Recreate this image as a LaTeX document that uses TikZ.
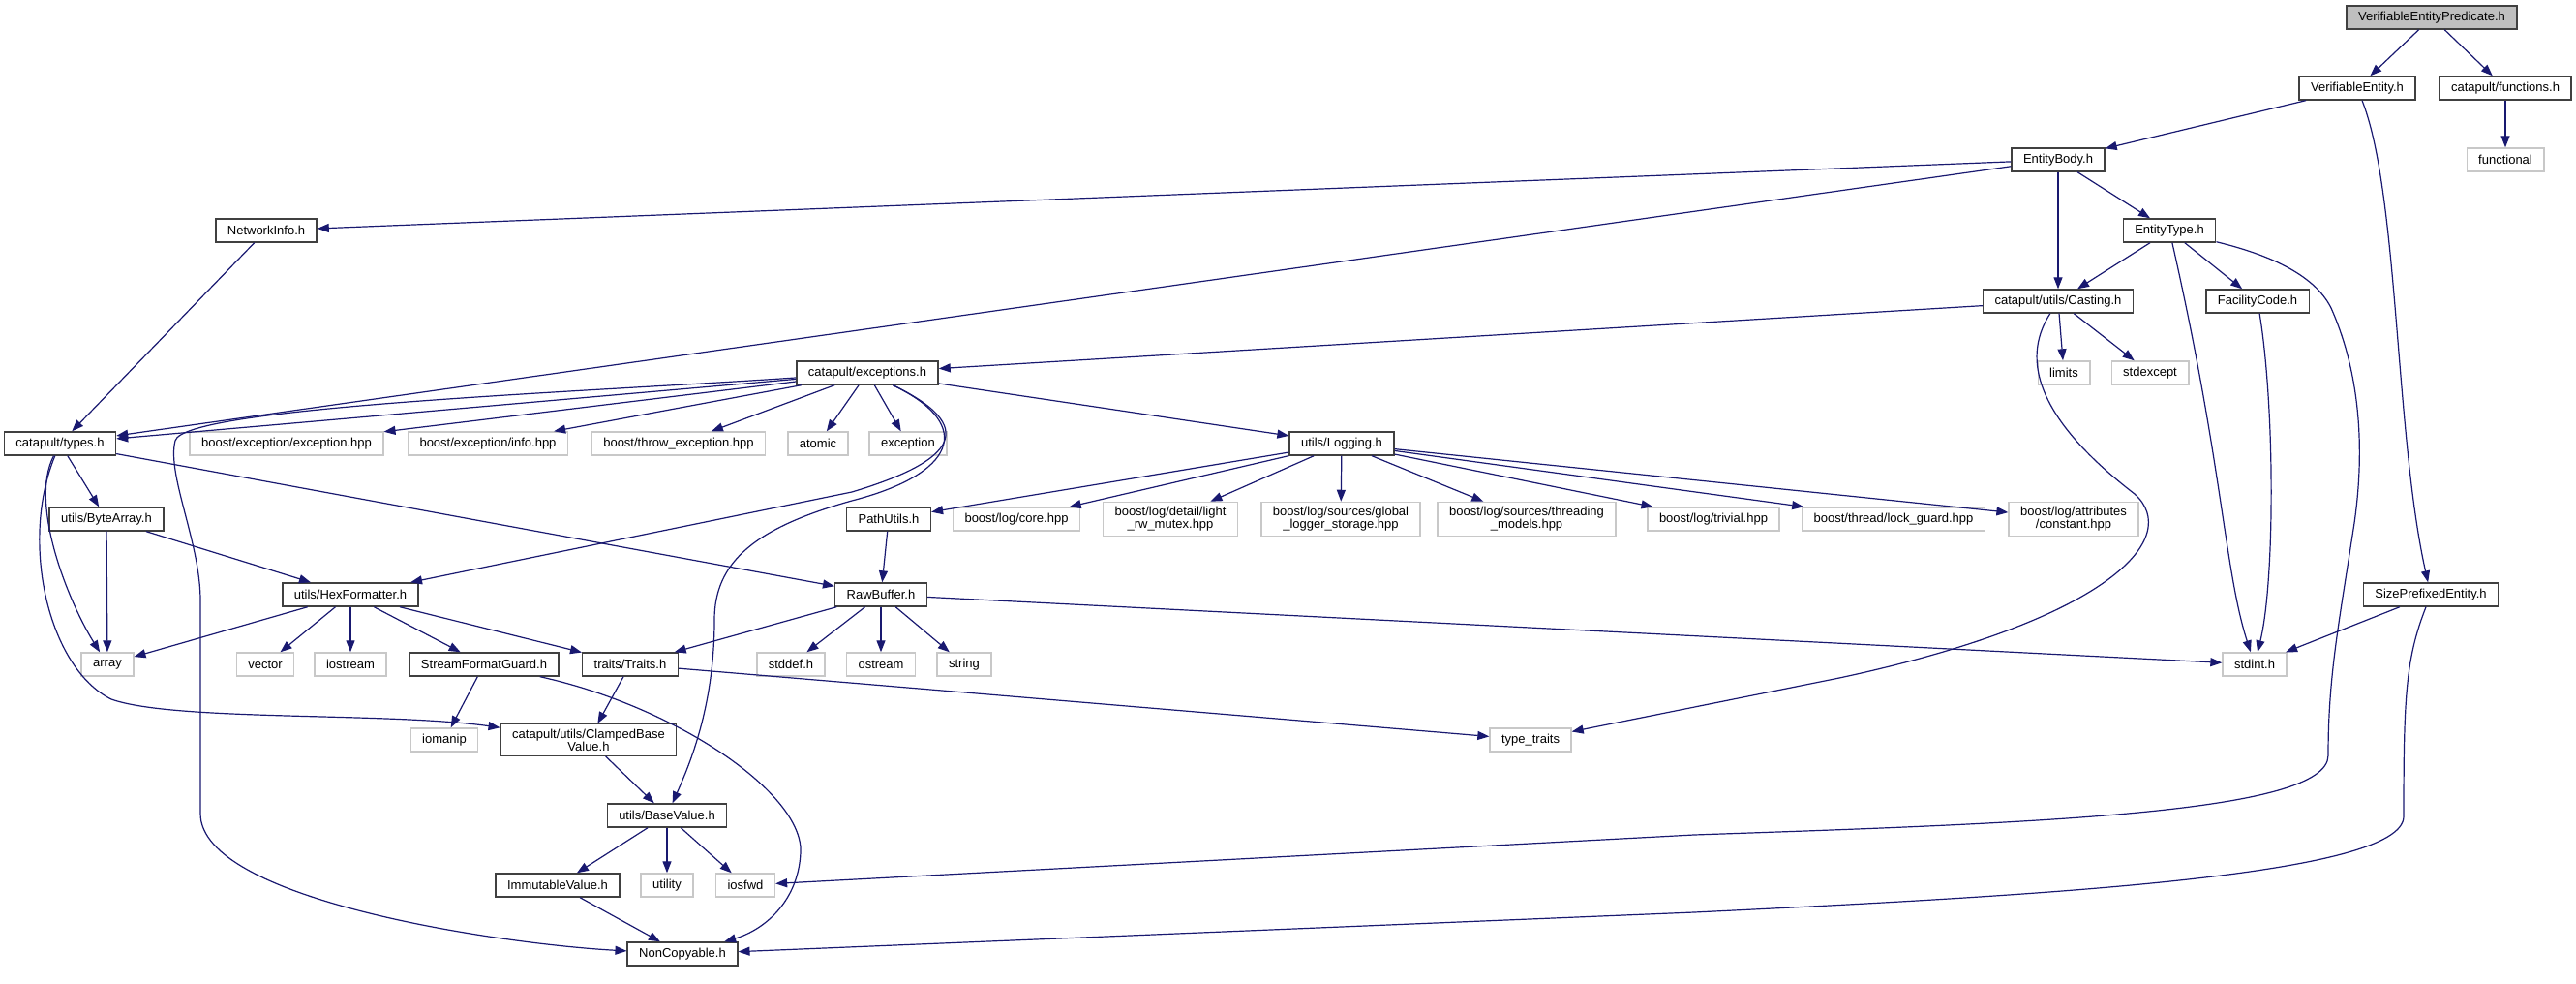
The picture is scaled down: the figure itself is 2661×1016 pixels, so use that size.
\documentclass[tikz,border=0pt]{standalone}
\usepackage{fontspec}
\setmainfont{Liberation Sans}
\usetikzlibrary{arrows.meta}
\definecolor{edgeblue}{HTML}{191970}
\definecolor{boxgray}{HTML}{404040}
\definecolor{sysgray}{HTML}{C8C8C8}
\definecolor{rootfill}{HTML}{BFBFBF}

\tikzset{
  hdr/.style={rectangle, draw=boxgray, line width=1.4pt, fill=white,
    minimum height=24pt, inner xsep=12pt, inner ysep=5pt, align=center,
    font=\fontsize{13}{13}\selectfont},
  sysh/.style={hdr, draw=sysgray},
  rooth/.style={hdr, fill=rootfill},
  dep/.style={draw=edgeblue, line width=1.2pt,
    -{Triangle[length=12pt,width=9pt]}}
}

\begin{document}
\begin{tikzpicture}[x=1pt, y=-1pt]
\useasboundingbox (0,0) rectangle (2661,1016);

% top of the graph
\node[rooth] (vep) at (2512,18) {VerifiableEntityPredicate.h};
\node[hdr] (ve) at (2435,91) {VerifiableEntity.h};
\node[hdr] (func) at (2588,91) {catapult/functions.h};
\node[sysh] (functional) at (2588,165) {functional};
\node[hdr] (body) at (2126,165) {EntityBody.h};
\node[hdr] (etype) at (2241,238) {EntityType.h};
\node[hdr] (netinfo) at (275,238) {NetworkInfo.h};
\node[hdr] (casting) at (2126,311) {catapult/utils/Casting.h};
\node[hdr] (facility) at (2332,311) {FacilityCode.h};
\node[hdr] (exc) at (896,385) {catapult/exceptions.h};
\node[sysh] (limits) at (2132,385) {limits};
\node[sysh] (stdexcept) at (2221,385) {stdexcept};

% row of types.h
\node[hdr] (types) at (62,458) {catapult/types.h};
\node[sysh] (bexc) at (296,458) {boost/exception/exception.hpp};
\node[sysh] (binfo) at (504,458) {boost/exception/info.hpp};
\node[sysh] (bthrow) at (701,458) {boost/throw\_exception.hpp};
\node[sysh] (atomic) at (845,458) {atomic};
\node[sysh] (exception) at (938,458) {exception};
\node[hdr] (logging) at (1386,458) {utils/Logging.h};

% logging includes
\node[hdr] (bytearr) at (110,536) {utils/ByteArray.h};
\node[hdr] (pathutils) at (918,536) {PathUtils.h};
\node[sysh] (bcore) at (1050,536) {boost/log/core.hpp};
\node[sysh] (bmutex) at (1209,536) {boost/log/detail/light\\\_rw\_mutex.hpp};
\node[sysh] (bglobal) at (1385,536) {boost/log/sources/global\\\_logger\_storage.hpp};
\node[sysh] (bthreading) at (1577,536) {boost/log/sources/threading\\\_models.hpp};
\node[sysh] (btrivial) at (1770,536) {boost/log/trivial.hpp};
\node[sysh] (block) at (1956,536) {boost/thread/lock\_guard.hpp};
\node[sysh] (bconst) at (2142,536) {boost/log/attributes\\/constant.hpp};

\node[hdr] (hexfmt) at (362,614) {utils/HexFormatter.h};
\node[hdr] (rawbuf) at (910,614) {RawBuffer.h};
\node[hdr] (spe) at (2511,614) {SizePrefixedEntity.h};

\node[sysh] (array) at (111,686) {array};
\node[sysh] (vector) at (274,686) {vector};
\node[sysh] (iostream) at (362,686) {iostream};
\node[hdr] (sfg) at (500,686) {StreamFormatGuard.h};
\node[hdr] (traits) at (651,686) {traits/Traits.h};
\node[sysh] (stddef) at (817,686) {stddef.h};
\node[sysh] (ostream) at (910,686) {ostream};
\node[sysh] (string) at (996,686) {string};
\node[sysh] (stdint) at (2329,686) {stdint.h};

% bottom rows
\node[sysh] (iomanip) at (459,764) {iomanip};
\node[hdr] (clamped) at (608,764) {catapult/utils/ClampedBase\\Value.h};
\node[sysh] (typetraits) at (1581,764) {type\_traits};
\node[hdr] (basevalue) at (689,842) {utils/BaseValue.h};
\node[hdr] (immut) at (576,914) {ImmutableValue.h};
\node[sysh] (utility) at (689,914) {utility};
\node[sysh] (iosfwd) at (770,914) {iosfwd};
\node[hdr] (noncopy) at (705,985) {NonCopyable.h};

% straight edges
\foreach \a/\b in {vep/ve, vep/func, func/functional, ve/body,
    body/netinfo, body/types, body/casting, body/etype,
    etype/casting, etype/facility, netinfo/types,
    casting/exc, casting/limits, casting/stdexcept,
    exc/types, exc/bexc, exc/binfo, exc/bthrow, exc/atomic,
    exc/exception, exc/logging,
    logging/pathutils, logging/bcore, logging/bmutex, logging/bglobal,
    logging/bthreading, logging/btrivial, logging/block, logging/bconst,
    types/bytearr, types/rawbuf, bytearr/array, bytearr/hexfmt,
    pathutils/rawbuf, hexfmt/array, hexfmt/vector, hexfmt/iostream,
    hexfmt/sfg, hexfmt/traits, rawbuf/traits, rawbuf/stddef,
    rawbuf/ostream, rawbuf/string, rawbuf/stdint, spe/stdint,
    sfg/iomanip, traits/clamped, traits/typetraits, clamped/basevalue,
    basevalue/immut, basevalue/utility, basevalue/iosfwd, immut/noncopy}
  \draw[dep] (\a) -- (\b);

% curved edges
\draw[dep] (ve) .. controls (2478,200) and (2474,450) .. (spe);
\draw[dep] (etype) .. controls (2296,480) and (2298,590) .. (stdint);
\draw[dep] (facility) .. controls (2350,420) and (2350,600) .. (stdint);
\draw[dep] (etype) .. controls (2340,262) and (2390,282) .. (2408,318)
  .. controls (2440,390) and (2442,470) .. (2432,540)
  .. controls (2415,650) and (2405,700) .. (2405,780)
  .. controls (2405,840) and (2100,850) .. (1750,862) -- (iosfwd);
\draw[dep] (spe) .. controls (2485,680) and (2483,720) .. (2483,843)
  .. controls (2483,905) and (2100,925) .. (1750,942) -- (noncopy);
\draw[dep] (casting) .. controls (2075,390) and (2140,460) .. (2205,510)
  .. controls (2255,555) and (2180,640) .. (1900,700) -- (typetraits);
\draw[dep] (exc) .. controls (600,405) and (190,420) .. (181,455)
  .. controls (172,490) and (207,560) .. (207,620) -- (207,840)
  .. controls (207,930) and (520,975) .. (noncopy);
\draw[dep] (exc) .. controls (1010,440) and (990,475) .. (880,508) -- (hexfmt);
\draw[dep] (exc) .. controls (1010,440) and (985,490) .. (880,517)
  .. controls (780,545) and (738,580) .. (738,640)
  .. controls (738,730) and (712,790) .. (basevalue);
\draw[dep] (types) .. controls (30,520) and (70,620) .. (array);
\draw[dep] (types) .. controls (20,560) and (50,690) .. (115,722)
  .. controls (180,745) and (400,735) .. (clamped);
\draw[dep] (sfg) .. controls (700,730) and (830,820) .. (827,880)
  .. controls (825,930) and (790,960) .. (noncopy);
\end{tikzpicture}
\end{document}
